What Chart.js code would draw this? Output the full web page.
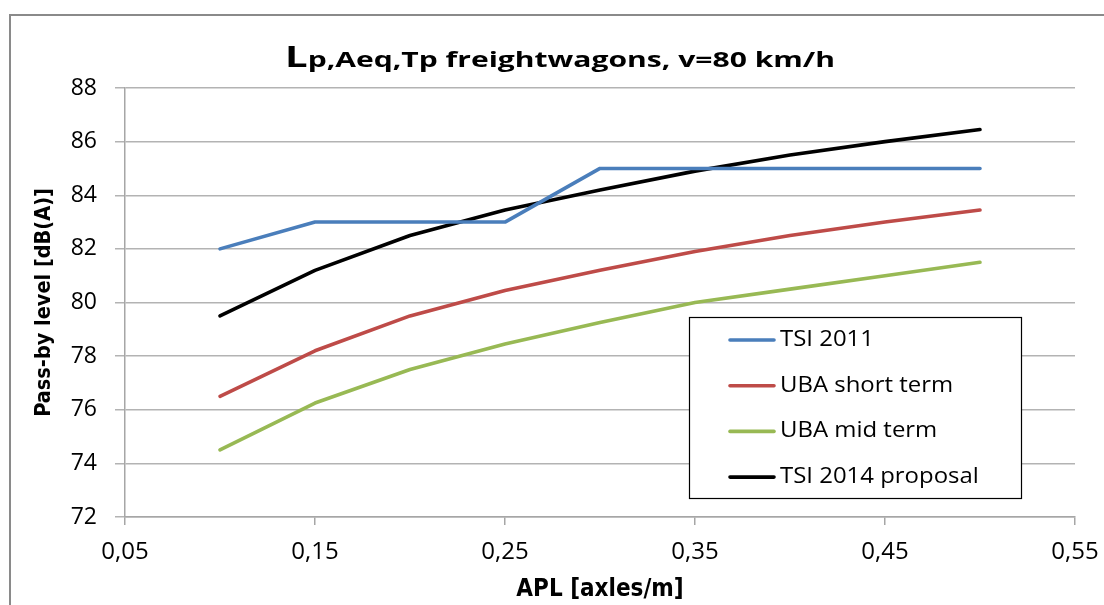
<!DOCTYPE html>
<html lang="en">

<head>
    <meta charset="UTF-8">
    <title>Pass-by level freightwagons</title>
    <style>
        body { margin: 0; background: #fff; }
        .chart-box { width: 1104px; height: 605px; position: relative; }
    </style>
</head>

<body>
    <div class="chart-box">
        <canvas id="passByChart"></canvas>
    </div>

    <script src="https://cdn.jsdelivr.net/npm/chart.js"></script>

    <script>
        // values
        const apl = [0.1, 0.15, 0.2, 0.25, 0.3, 0.35, 0.4, 0.45, 0.5];
        const tsi2011 = [82, 83, 83, 83, 85, 85, 85, 85, 85];
        const ubaShort = [76.5, 78.2, 79.5, 80.45, 81.2, 81.9, 82.5, 83.0, 83.45];
        const ubaMid = [74.5, 76.25, 77.5, 78.45, 79.25, 80.0, 80.5, 81.0, 81.5];
        const tsi2014 = [79.5, 81.2, 82.5, 83.45, 84.2, 84.9, 85.5, 86.0, 86.45];

        const xTickValues = [0.05, 0.15, 0.25, 0.35, 0.45, 0.55];
        const xTickLabels = ['0,05', '0,15', '0,25', '0,35', '0,45', '0,55'];

        const seriesNames = ['TSI 2011', 'UBA short term', 'UBA mid term', 'TSI 2014 proposal'];
        const seriesColors = ['#4a7ebb', '#be4b48', '#98b954', '#000000'];

        const tickFont = '"Open Sans", sans-serif';
        const titleFont = '"DejaVu Sans Condensed", "Open Sans", sans-serif';

        function points(ys) {
            return apl.map((x, i) => ({ x: x, y: ys[i] }));
        }

        const datasets = [tsi2011, ubaShort, ubaMid, tsi2014].map((ys, i) => ({
            label: seriesNames[i],
            data: points(ys),
            borderColor: seriesColors[i],
            backgroundColor: seriesColors[i],
            borderWidth: 3.6,
            borderCapStyle: 'round',
            borderJoinStyle: 'round',
            tension: 0,
            pointRadius: 0,
            fill: false
        }));

        // outer frame, title with the big "L", and the boxed legend
        const decorations = {
            id: 'decorations',
            beforeDraw(chart) {
                const ctx = chart.ctx;
                ctx.save();
                ctx.strokeStyle = '#8a8a8a';
                ctx.lineWidth = 2;
                ctx.strokeRect(10, 15, 1200, 700);
                ctx.restore();
            },
            afterDraw(chart) {
                const ctx = chart.ctx;
                ctx.save();

                // title (the original is stretched sideways, so stretch it too)
                const bigL = 'bold 28px "Open Sans", sans-serif';
                const rest = 'bold 21px "Open Sans", sans-serif';
                const restText = 'p,Aeq,Tp freightwagons, v=80 km/h';
                ctx.font = bigL;
                const wL = ctx.measureText('L').width;
                ctx.font = rest;
                const wR = ctx.measureText(restText).width;
                const sx = 550 / (wL + wR);
                ctx.translate(285, 67);
                ctx.scale(sx, 1);
                ctx.fillStyle = '#000';
                ctx.textBaseline = 'alphabetic';
                ctx.font = bigL;
                ctx.fillText('L', 0, 0);
                ctx.font = rest;
                ctx.fillText(restText, wL, 0);
                ctx.setTransform(1, 0, 0, 1, 0, 0);

                // legend
                const box = { left: 689, top: 317, width: 332, height: 181 };
                ctx.fillStyle = '#fff';
                ctx.fillRect(box.left, box.top, box.width, box.height);
                ctx.strokeStyle = '#000';
                ctx.lineWidth = 1.2;
                ctx.strokeRect(box.left + 0.5, box.top + 0.5, box.width, box.height);

                ctx.font = '21px ' + tickFont;
                ctx.textBaseline = 'middle';
                chart.data.datasets.forEach((ds, i) => {
                    const y = 340 + i * 45.7;
                    ctx.strokeStyle = ds.borderColor;
                    ctx.lineWidth = 3.6;
                    ctx.lineCap = 'round';
                    ctx.beginPath();
                    ctx.moveTo(730, y);
                    ctx.lineTo(774, y);
                    ctx.stroke();
                    ctx.fillStyle = '#000';
                    ctx.save();
                    ctx.translate(780, y);
                    ctx.scale(1.14, 1);
                    ctx.fillText(ds.label, 0, 0);
                    ctx.restore();
                });
                ctx.restore();
            }
        };

        const config = {
            type: 'line',
            data: { datasets: datasets },
            options: {
                responsive: true,
                maintainAspectRatio: false,
                animation: false,
                layout: {
                    padding: { top: 88, right: 29, left: 0, bottom: 0 }
                },
                plugins: {
                    legend: { display: false },
                    title: { display: false },
                    tooltip: { enabled: false }
                },
                scales: {
                    x: {
                        type: 'linear',
                        min: 0.05,
                        max: 0.55,
                        afterBuildTicks: (scale) => {
                            scale.ticks = xTickValues.map(v => ({ value: v }));
                        },
                        afterFit: (scale) => {
                            scale.height = 88;
                            scale.paddingLeft = 0;
                            scale.paddingRight = 0;
                        },
                        ticks: {
                            callback: (value, index) => xTickLabels[index],
                            color: '#000',
                            padding: 13,
                            maxRotation: 0,
                            font: { family: tickFont, size: 24 }
                        },
                        grid: {
                            drawOnChartArea: false,
                            drawTicks: true,
                            tickLength: 8,
                            color: '#a6a6a6',
                            lineWidth: 1.5
                        },
                        border: { color: '#a6a6a6', width: 1.5 },
                        title: {
                            display: true,
                            text: 'APL [axles/m]',
                            color: '#000',
                            padding: { top: 0, bottom: 1 },
                            font: { family: titleFont, size: 24, weight: 'bold' }
                        }
                    },
                    y: {
                        min: 72,
                        max: 88,
                        afterFit: (scale) => {
                            scale.width = 125;
                            scale.paddingTop = 0;
                            scale.paddingBottom = 0;
                        },
                        ticks: {
                            stepSize: 2,
                            color: '#000',
                            padding: 18,
                            font: { family: tickFont, size: 23 }
                        },
                        grid: {
                            color: '#b3b3b3',
                            lineWidth: 1.5,
                            tickLength: 10
                        },
                        border: { color: '#a6a6a6', width: 1.5 },
                        title: {
                            display: true,
                            text: 'Pass-by level [dB(A)]',
                            color: '#000',
                            padding: { top: 32, bottom: 0 },
                            font: { family: titleFont, size: 21.5, weight: 'bold' }
                        }
                    }
                }
            },
            plugins: [decorations]
        };

        const passByChart = new Chart(
            document.getElementById('passByChart'),
            config
        );
    </script>
</body>

</html>
